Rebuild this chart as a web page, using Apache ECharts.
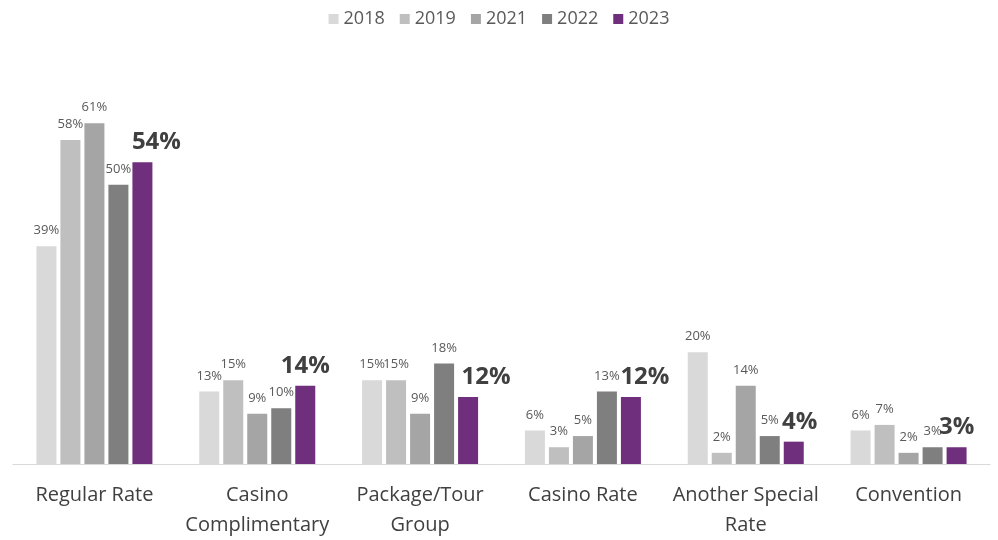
<!DOCTYPE html>
<html>
<head>
<meta charset="utf-8">
<script src="https://cdn.jsdelivr.net/npm/echarts@6/dist/echarts.min.js"></script>
<style>
    html, body { margin: 0; padding: 0; background: #fff; }
    #chart { width: 998px; height: 540px; }
</style>
</head>
<body>
<div id="chart"></div>
<script>
const categories = ['Regular Rate', 'Casino\nComplimentary', 'Package/Tour\nGroup', 'Casino Rate', 'Another Special\nRate', 'Convention'];
const years = ['2018', '2019', '2021', '2022', '2023'];
const v2018 = [39, 13, 15, 6, 20, 6];
const v2019 = [58, 15, 15, 3, 2, 7];
const v2021 = [61, 9, 9, 5, 14, 2];
const v2022 = [50, 10, 18, 13, 5, 3];
const v2023 = [54, 14, 12, 12, 4, 3];

const values = [v2018, v2019, v2021, v2022, v2023];
const colors = ['#d9d9d9', '#bfbfbf', '#a5a5a5', '#7f7f7f', '#702f7c'];
// 2023 标签的水平微调（像素）
const lastLabelShift = [14, 0, 18, 14, 6, 0];

(function () {
    const chart = echarts.init(document.getElementById('chart'));

    const series = years.map((y, i) => {
        const last = i === years.length - 1;
        return {
            name: y,
            type: 'bar',
            data: values[i].map((v, j) => last
                ? { value: v, label: { offset: [lastLabelShift[j], 0] } }
                : v),
            barWidth: 20,
            barGap: '20%',
            itemStyle: { color: colors[i] },
            label: {
                show: true,
                position: 'top',
                distance: last ? 8 : 9,
                formatter: '{c}%',
                fontFamily: 'Open Sans',
                fontSize: last ? 24 : 13,
                fontWeight: last ? 'bold' : 'normal',
                color: last ? '#404040' : '#595959'
            }
        };
    });

    chart.setOption({
        animation: false,
        textStyle: { fontFamily: 'Open Sans' },
        legend: {
            data: years,
            top: 5,
            left: 'center',
            itemWidth: 10,
            itemHeight: 10,
            itemGap: 15,
            icon: 'rect',
            textStyle: { fontSize: 18, color: '#595959', fontFamily: 'Open Sans' }
        },
        grid: { left: 13, right: 8, top: 73, bottom: 74 },
        xAxis: {
            type: 'category',
            data: categories,
            axisTick: { show: false },
            axisLine: { lineStyle: { color: '#d9d9d9', width: 1 } },
            axisLabel: {
                fontSize: 20,
                color: '#404040',
                lineHeight: 30,
                margin: 16,
                interval: 0,
                fontFamily: 'Open Sans'
            }
        },
        yAxis: {
            type: 'value',
            min: 0,
            max: 70,
            show: false,
            splitLine: { show: false }
        },
        series: series
    });
})();
</script>
</body>
</html>
